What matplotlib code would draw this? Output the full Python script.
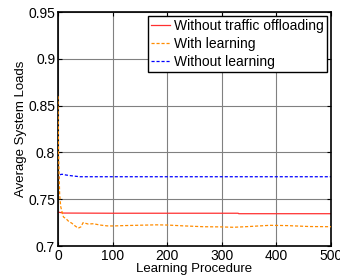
import matplotlib.pyplot as plt

plt.rcParams['font.family'] = ['Liberation Sans', 'DejaVu Sans']
plt.rcParams['font.size'] = 10

# readings from the reference
steps_red = [0, 2, 10, 100, 200, 330, 331, 500]
loads_red = [0.736, 0.736, 0.7352, 0.735, 0.735, 0.735, 0.7345, 0.7345]

steps_orange = [0, 1, 3, 5, 8, 10, 15, 20, 25, 30, 37, 42, 46, 55, 65, 77, 90, 101,
                120, 150, 180, 200, 230, 266, 300, 321, 350, 388, 420, 460, 500]
loads_orange = [0.86, 0.80, 0.755, 0.742, 0.735, 0.731, 0.729, 0.726, 0.7245, 0.722,
                0.719, 0.7205, 0.725, 0.7235, 0.7238, 0.7224, 0.7215, 0.7214,
                0.7218, 0.7222, 0.7226, 0.7224, 0.7215, 0.7206, 0.7204, 0.720,
                0.7208, 0.7221, 0.7218, 0.7208, 0.7206]

steps_blue = [0, 2, 5, 8, 15, 25, 40, 100, 300, 500]
loads_blue = [0.771, 0.773, 0.7765, 0.7766, 0.7758, 0.775, 0.774, 0.774, 0.774, 0.774]

labels = ['Without traffic offloading', 'With learning', 'Without learning']

fig = plt.figure(figsize=(3.4, 2.8), dpi=100)
ax = fig.add_axes([58 / 340, 34 / 280, 273 / 340, 234 / 280])

ax.plot(steps_red, loads_red, color='#ff3030', linewidth=0.9, label=labels[0])
ax.plot(steps_orange, loads_orange, color='#ff8c00', linewidth=0.9, linestyle='--',
        dashes=(2.5, 1.5), label=labels[1], zorder=3)
ax.plot(steps_blue, loads_blue, color='#0000ff', linewidth=0.9, linestyle='--',
        dashes=(2.5, 1.5), label=labels[2])

ax.set_xlim(0, 500)
ax.set_ylim(0.7, 0.95)
ax.set_xticks([0, 100, 200, 300, 400, 500])
ax.set_yticks([0.7, 0.75, 0.8, 0.85, 0.9, 0.95])
ax.set_yticklabels(['0.7', '0.75', '0.8', '0.85', '0.9', '0.95'])
ax.grid(True, color='#808080', linewidth=0.8)
ax.tick_params(direction='in', top=True, right=True, length=3, pad=2, labelsize=10)
for sp in ax.spines.values():
    sp.set_linewidth(1.2)

ax.set_xlabel('Learning Procedure', fontsize=9.5, labelpad=0.5)
ax.set_ylabel('Average System Loads', fontsize=9.5, labelpad=1)

leg = ax.legend(loc='upper right', fontsize=10, frameon=True, fancybox=False,
                edgecolor='black', handlelength=1.4, handletextpad=0.3,
                labelspacing=0.3, borderpad=0.2, borderaxespad=0.3)
leg.get_frame().set_linewidth(1.0)
leg.get_frame().set_alpha(1)

fig.savefig('out.png', dpi=100)
